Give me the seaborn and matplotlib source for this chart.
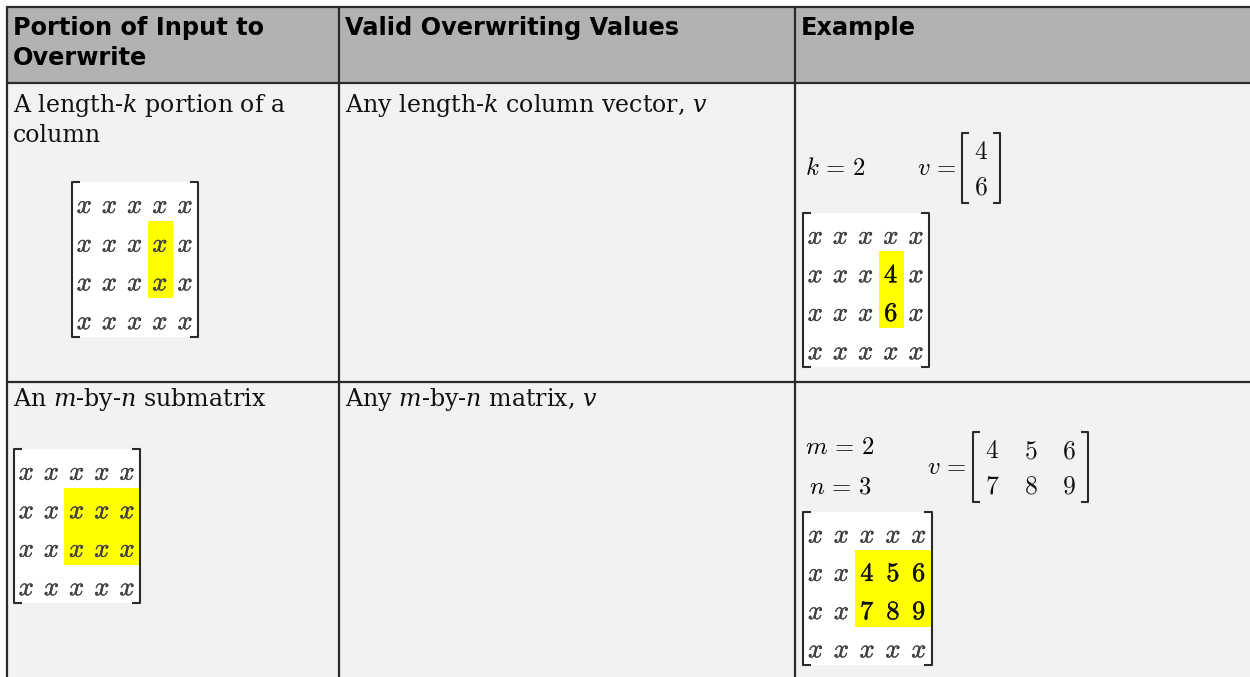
import numpy as np
import matplotlib
matplotlib.use("Agg")
import matplotlib.pyplot as plt
import matplotlib.patheffects as pe
from matplotlib.colors import ListedColormap
from matplotlib.patches import Rectangle
import seaborn as sns

W, H = 1250, 677

# table text
HEADERS = [["Portion of Input to", "Overwrite"], ["Valid Overwriting Values"], ["Example"]]
PORTION = [["A length-$k$ portion of a", "column"], ["An $m$-by-$n$ submatrix"]]
VALID = [["Any length-$k$ column vector, $v$"], ["Any $m$-by-$n$ matrix, $v$"]]

# example values
GRID_ROWS, GRID_COLS = 4, 5
K = 2
V_COL = [[4], [6]]
M, N = 2, 3
V_SUB = [[4, 5, 6], [7, 8, 9]]
COL_START = (1, 3)   # first overwritten cell (row, col)
SUB_START = (1, 2)

# layout in pixels
COL_X = [7, 339, 795, W]
ROW_Y = [7, 83, 382, H]
HEADER_BG = "#b2b2b2"
BODY_BG = "#f2f2f2"
LINE = "#2a2a2a"
YELLOW = "#ffff00"

sns.set_theme(style="white")
plt.rcParams["font.family"] = ["DejaVu Sans"]

fig = plt.figure(figsize=(W / 100, H / 100), dpi=100, facecolor="white")
ax = fig.add_axes([0, 0, 1, 1])
ax.set_xlim(0, W); ax.set_ylim(H, 0)
ax.axis("off")


def px_axes(x0, y0, x1, y1):
    return fig.add_axes([x0 / W, 1 - y1 / H, (x1 - x0) / W, (y1 - y0) / H])


def block(values, start):
    """4x5 grid of x's with the given values written in from start."""
    labels = np.full((GRID_ROWS, GRID_COLS), "$x$", dtype=object)
    mask = np.zeros((GRID_ROWS, GRID_COLS))
    r0, c0 = start
    for i, row in enumerate(values):
        for j, val in enumerate(row):
            labels[r0 + i, c0 + j] = f"${val}$"
            mask[r0 + i, c0 + j] = 1
    return labels, mask


def draw_matrix(box, labels, mask, colors, serif_px=8, fs=19, dy=0.12, bold=True):
    a = px_axes(*box)
    sns.heatmap(mask, ax=a, cmap=ListedColormap(colors), vmin=0, vmax=1, cbar=False,
                annot=labels, fmt="", annot_kws={"fontsize": fs, "math_fontfamily": "cm"},
                xticklabels=False, yticklabels=False, linewidths=0)
    for t in a.texts:
        c = "#404040" if "x" in t.get_text() else "#111111"
        t.set_color(c)
        t.set_y(t.get_position()[1] + dy)
        if bold:
            t.set_path_effects([pe.withStroke(linewidth=0.3, foreground=c)])
    nr, nc = mask.shape
    s = serif_px / ((box[2] - box[0]) / nc)
    kw = dict(color=LINE, lw=1.5, clip_on=False, solid_capstyle="butt")
    a.plot([s, 0, 0, s], [0, 0, nr, nr], **kw)
    a.plot([nc - s, nc, nc, nc - s], [0, 0, nr, nr], **kw)
    return a


# backgrounds
ax.add_patch(Rectangle((COL_X[0], ROW_Y[0]), W - COL_X[0], ROW_Y[1] - ROW_Y[0], color=HEADER_BG))
ax.add_patch(Rectangle((COL_X[0], ROW_Y[1]), W - COL_X[0], H - ROW_Y[1], color=BODY_BG))

# grid lines
for y in ROW_Y[:3]:
    ax.plot([COL_X[0], W], [y, y], color=LINE, lw=1.6)
for x in COL_X[:3]:
    ax.plot([x, x], [ROW_Y[0], H], color=LINE, lw=1.6)

# header text
for ci, lines in enumerate(HEADERS):
    for li, line in enumerate(lines):
        ax.text(COL_X[ci] + 6, 35 + 30 * li, line, fontsize=17.3, fontweight="bold",
                color="black", va="baseline", ha="left")

# body text
body_base = [112, 406]
for ri in range(2):
    for ci, col in enumerate([PORTION, VALID]):
        for li, line in enumerate(col[ri]):
            ax.text(COL_X[ci] + 6, body_base[ri] + 30 * li, line, fontsize=17.1,
                    family="DejaVu Serif", math_fontfamily="dejavuserif",
                    va="baseline", ha="left", color="#111111")

# row 1 pictures
lab, msk = block([[""], [""]], COL_START)
lab[msk == 1] = "$x$"
draw_matrix((72, 182, 198, 337), lab, msk, ["white", YELLOW])
lab, msk = block(V_COL, COL_START)
draw_matrix((803, 213, 929, 367), lab, msk, ["white", YELLOW])
eq = dict(fontsize=17.8, math_fontfamily="cm", va="center", color="black")
ax.text(805, 168, rf"$k\,=\,{K}$", ha="left", **eq)
ax.text(957, 168, r"$v\,=$", ha="right", **eq)
vlab = np.array([[f"${v}$" for v in row] for row in V_COL], dtype=object)
draw_matrix((962, 133, 1000, 203), vlab, np.zeros(vlab.shape), [BODY_BG, BODY_BG],
            serif_px=7, fs=18.5, dy=0.05, bold=False)

# row 2 pictures
lab, msk = block([["", "", ""], ["", "", ""]], SUB_START)
lab[msk == 1] = "$x$"
draw_matrix((14, 449, 140, 603), lab, msk, ["white", YELLOW])
lab, msk = block(V_SUB, SUB_START)
draw_matrix((803, 512, 932, 665), lab, msk, ["white", YELLOW])
ax.text(805, 447, rf"$m\,=\,{M}$", ha="left", **eq)
ax.text(809, 487, rf"$n\,=\,{N}$", ha="left", **eq)
ax.text(967, 467, r"$v\,=$", ha="right", **eq)
vlab = np.array([[f"${v}$" for v in row] for row in V_SUB], dtype=object)
draw_matrix((973, 432, 1088, 502), vlab, np.zeros(vlab.shape), [BODY_BG, BODY_BG],
            serif_px=7, fs=18.5, dy=0.05, bold=False)

fig.savefig("out.png", dpi=100, facecolor="white")
